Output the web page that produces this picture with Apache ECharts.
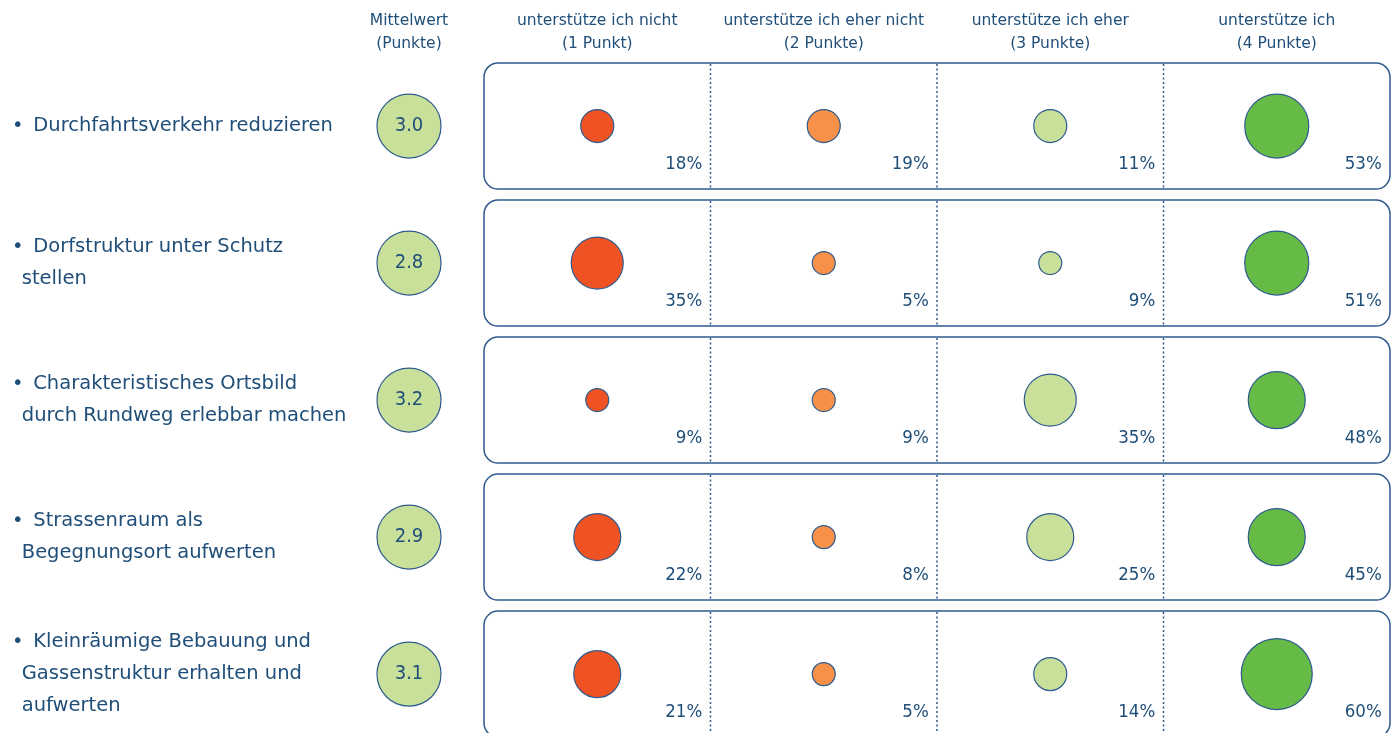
<!DOCTYPE html>
<html>
<head>
<meta charset="utf-8">
<script src="https://cdn.jsdelivr.net/npm/echarts@6/dist/echarts.min.js"></script>
<style>
  html, body { margin: 0; padding: 0; background: #fff; }
  #chart { width: 1394px; height: 733px; }
</style>
</head>
<body>
<div id="chart"></div>
<script>
  // Massnahmen (Zeilen)
  const measures = [
    'Durchfahrtsverkehr reduzieren',
    'Dorfstruktur unter Schutz\nstellen',
    'Charakteristisches Ortsbild\ndurch Rundweg erlebbar machen',
    'Strassenraum als\nBegegnungsort aufwerten',
    'Kleinräumige Bebauung und\nGassenstruktur erhalten und\naufwerten'
  ];
  const meanHeader = ['Mittelwert\n(Punkte)'];
  const answerCols = [
    'unterstütze ich nicht\n(1 Punkt)',
    'unterstütze ich eher nicht\n(2 Punkte)',
    'unterstütze ich eher\n(3 Punkte)',
    'unterstütze ich\n(4 Punkte)'
  ];
  const meanValues = [3.0, 2.8, 3.2, 2.9, 3.1];
  const pctNicht = [18, 35, 9, 22, 21];
  const pctEherNicht = [19, 5, 9, 8, 5];
  const pctEher = [11, 9, 35, 25, 14];
  const pctJa = [53, 51, 48, 45, 60];

  const colors = ['#EF5324', '#F7914A', '#C9E09A', '#66BB46'];
  const textColor = '#1F4E79';
  const lineColor = '#2F5B8E';
  const fontWide = '"DejaVu Sans", "Verdana", sans-serif';
  const fontNarrow = '"DejaVu Sans Condensed", "Liberation Sans Narrow", "DejaVu Sans", sans-serif';

  // Kreisgrösse nach Prozentklasse
  const sizeSteps = [23, 33, 47, 52, 57, 64, 71];
  function sizeFor(v) {
    return sizeSteps[Math.min(sizeSteps.length - 1, Math.floor(v / 10))];
  }

  // Zeilenachse: Zeile 0 oben, letzte Zeile unten angeschnitten
  const rowMin = -0.46;
  const rowMax = 4.43;
  const boxRatio = 126 / 137;

  const myChart = echarts.init(document.getElementById('chart'));

  function rowAxis(gridIndex) {
    return {
      gridIndex: gridIndex, type: 'value', inverse: true, min: rowMin, max: rowMax,
      axisLine: { show: false }, axisTick: { show: false }, splitLine: { show: false },
      axisLabel: { show: false }
    };
  }

  const pctSeries = [pctNicht, pctEherNicht, pctEher, pctJa].map((arr, col) => ({
    type: 'scatter',
    xAxisIndex: 1,
    yAxisIndex: 1,
    z: 3,
    data: arr.map((v, row) => [col, row, v]),
    symbolSize: d => sizeFor(d[2]),
    itemStyle: { color: colors[col], borderColor: lineColor, borderWidth: 1.2, opacity: 1 },
    label: {
      show: true,
      position: 'inside',
      offset: [105, 38],
      align: 'right',
      formatter: p => p.value[2] + '%',
      color: textColor,
      fontFamily: fontNarrow,
      fontSize: 18.5
    },
    emphasis: { disabled: true },
    silent: true
  }));

  const option = {
    animation: false,
    textStyle: { fontFamily: fontWide, color: textColor },
    grid: [
      { left: 376, width: 66, top: 63, bottom: 0 },
      { left: 484, width: 906, top: 63, bottom: 0 }
    ],
    xAxis: [
      {
        gridIndex: 0, type: 'category', position: 'top', data: meanHeader,
        axisLine: { show: false }, axisTick: { show: false }, splitLine: { show: false },
        axisLabel: { margin: 8, color: textColor, fontFamily: fontWide, fontSize: 15.5, lineHeight: 23 }
      },
      {
        gridIndex: 1, type: 'category', position: 'top', data: answerCols,
        axisLine: { show: false }, axisTick: { show: false }, splitLine: { show: false },
        axisLabel: { margin: 8, color: textColor, fontFamily: fontWide, fontSize: 15.5, lineHeight: 23, interval: 0 }
      }
    ],
    yAxis: [rowAxis(0), rowAxis(1)],
    series: [
      {
        // Zeilen-Rahmen mit gepunkteten Trennlinien
        type: 'custom',
        xAxisIndex: 1,
        yAxisIndex: 1,
        z: 1,
        silent: true,
        data: measures.map((m, i) => [0, i]),
        renderItem: function (params, api) {
          const c = api.coord([0, api.value(1)]);
          const bw = api.size([1, 1])[0];
          const h = api.size([0, 1])[1] * boxRatio;
          const x0 = c[0] - bw / 2;
          const y0 = c[1] - h / 2;
          const children = [{
            type: 'rect',
            shape: { x: x0, y: y0, width: bw * 4, height: h, r: 14 },
            style: { fill: '#fff', stroke: lineColor, lineWidth: 1.5 }
          }];
          for (let k = 1; k < 4; k++) {
            children.push({
              type: 'line',
              shape: { x1: x0 + bw * k, y1: y0 + 1, x2: x0 + bw * k, y2: y0 + h - 1 },
              style: { stroke: lineColor, lineWidth: 1.5, lineDash: [2, 2.5] }
            });
          }
          return { type: 'group', children: children };
        }
      },
      {
        // Zeilentitel links
        type: 'scatter',
        xAxisIndex: 0,
        yAxisIndex: 0,
        z: 3,
        data: measures.map((m, i) => [0, i]),
        symbolSize: 1,
        itemStyle: { color: '#fff', opacity: 1 },
        label: {
          show: true,
          position: 'inside',
          offset: [-397, 0],
          align: 'left',
          formatter: p => '•\u2002' + measures[p.dataIndex].replace(/\n/g, '\n\u2002'),
          color: textColor,
          opacity: 1,
          textBorderWidth: 0,
          fontFamily: fontWide,
          fontSize: 19.5,
          lineHeight: 32
        },
        emphasis: { disabled: true },
        silent: true
      },
      {
        type: 'scatter',
        xAxisIndex: 0,
        yAxisIndex: 0,
        z: 3,
        data: meanValues.map((v, i) => [0, i, v]),
        symbolSize: 64,
        itemStyle: { color: colors[2], borderColor: lineColor, borderWidth: 1.2, opacity: 1 },
        label: {
          show: true,
          position: 'inside',
          formatter: p => p.value[2].toFixed(1),
          color: textColor,
          fontFamily: fontNarrow,
          fontSize: 20
        },
        emphasis: { disabled: true },
        silent: true
      },
      ...pctSeries
    ]
  };

  myChart.setOption(option);
</script>
</body>
</html>
